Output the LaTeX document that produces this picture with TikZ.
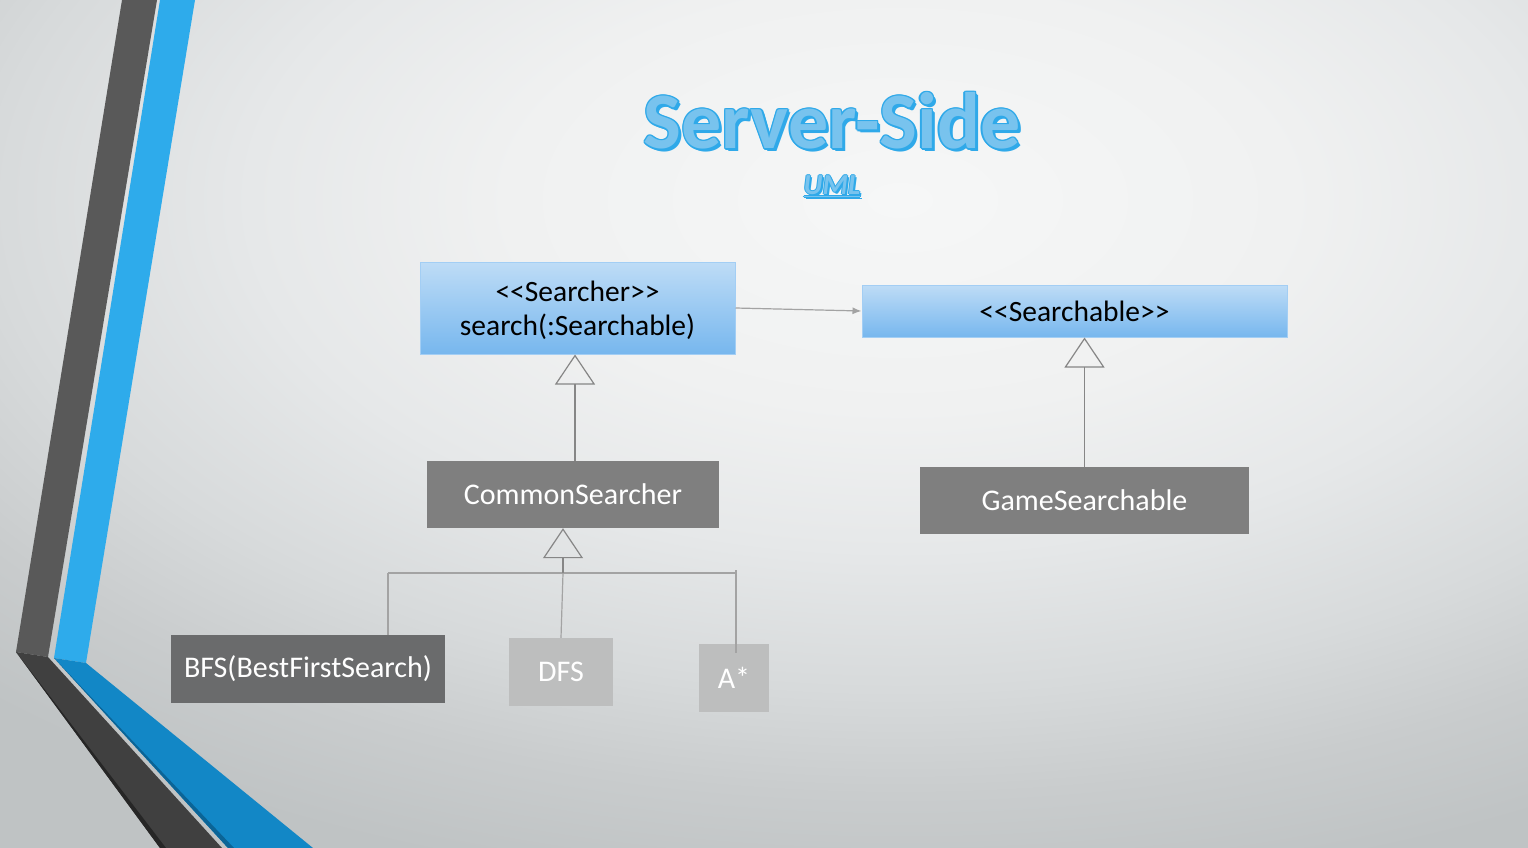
\documentclass[tikz,border=0pt]{standalone}
\usepackage{fontspec}
\setmainfont{Carlito}[Ligatures=TeXOff]
\usetikzlibrary{arrows.meta}
\definecolor{bgA}{HTML}{F6F7F7}
\definecolor{bgB}{HTML}{F0F1F1}
\definecolor{bgC}{HTML}{E6E8E9}
\definecolor{bgD}{HTML}{D7DADB}
\definecolor{bgE}{HTML}{C9CCCD}
\definecolor{bgF}{HTML}{BFC3C4}
\definecolor{dkband}{HTML}{595959}
\definecolor{dklow}{HTML}{404040}
\definecolor{blueband}{HTML}{2EABEB}
\definecolor{bluelow}{HTML}{1287C6}
\definecolor{blueedge}{HTML}{0B6496}
\definecolor{titleblue}{HTML}{2FA9E9}
\definecolor{titlefill}{HTML}{78C3EE}
\definecolor{umltop}{HTML}{BEDCF6}
\definecolor{umlbot}{HTML}{77B7EE}
\definecolor{umlborder}{HTML}{A3CEF4}
\definecolor{darkfill}{HTML}{7F7F7F}
\definecolor{bfsfill}{HTML}{6A6B6C}
\definecolor{lightfill}{HTML}{BDBEBE}
\definecolor{connline}{HTML}{A3A3A3}
\definecolor{genline}{HTML}{868686}
\pgfdeclareradialshading{bgshade}{\pgfpoint{0bp}{0bp}}{color(0bp)=(bgA); color(7.5bp)=(bgB); color(12.5bp)=(bgC); color(17.5bp)=(bgD); color(21.25bp)=(bgE); color(25bp)=(bgF); color(50bp)=(bgF)}
\tikzset{
  umlbox/.style={draw=umlborder, line width=1pt, top color=umltop, bottom color=umlbot, text=black, inner sep=0pt, font=\fontsize{29.5}{34}\selectfont, align=center},
  darkbox/.style={fill=darkfill, text=white, inner sep=0pt, font=\fontsize{30}{34}\selectfont},
  bfsbox/.style={fill=bfsfill, text=white, inner sep=0pt, font=\fontsize{30}{34}\selectfont},
  lightbox/.style={fill=lightfill, text=white, inner sep=0pt, font=\fontsize{30}{34}\selectfont},
  conn/.style={draw=connline, line width=1.2pt},
  assoc/.style={draw=connline, line width=1.2pt, -{Latex[length=9pt, width=7pt]}},
  gen/.style={draw=genline, line width=1.2pt, -{Triangle[open, length=30pt, width=40pt, line width=1.2pt]}},
  titlefont/.style={font=\fontsize{80}{80}\selectfont\bfseries},
  subfont/.style={font=\fontsize{29}{29}\selectfont\bfseries\itshape},
}
\begin{document}
\begin{tikzpicture}[x=1pt, y=-1pt]
\begin{scope}
\clip (0,0) rectangle (1528,848);
\shade[shading=bgshade] (-400,-500) rectangle (2200,900);
\end{scope}
\useasboundingbox (0,0) rectangle (1528,848);
% left decoration
\fill[dkband] (122,0) -- (157,0) -- (48,657) -- (16,652) -- cycle;
\fill[blueband] (160,0) -- (195,0) -- (86,663) -- (54,658) -- cycle;
\fill[dklow] (16,652) -- (48,657) -- (222,848) -- (160,848) -- cycle;
\fill[black!85] (16,652) -- (166,848) -- (160,848) -- cycle;
\fill[bluelow] (54,658) -- (86,663) -- (313,848) -- (228,848) -- cycle;
\fill[blueedge] (54,658) -- (234,848) -- (228,848) -- cycle;
% title
\foreach \dx/\dy [count=\i] in {3/3, 2/2, -1.5/0, 1.5/0, 0/-1.5, 0/1.5, -1/-1, 1/-1, -1/1, 1/1}
  \node[titlefont, text=titleblue] (ts\i) at (832+\dx,121+\dy) {Server-Side};
\node[titlefont, text=titlefill] (title) at (832,121) {Server-Side};
\foreach \dx/\dy [count=\i] in {2/2, -1/0, 1/0, 0/-1, 0/1}
  \node[subfont, text=titleblue] (us\i) at (832+\dx,186+\dy) {\underline{UML}};
\node[subfont, text=titlefill] (uml) at (832,186) {\underline{UML}};
% boxes
\node[umlbox, minimum width=315pt, minimum height=92pt] (searcher) at (577.5,308) {\raisebox{-2.5pt}[\height][\depth]{<<Searcher>>}\\\raisebox{-2.5pt}[\height][\depth]{search(:Searchable)}};
\node[umlbox, minimum width=425pt, minimum height=52pt] (searchable) at (1074.5,311) {<<Searchable>>};
\node[darkbox, minimum width=292pt, minimum height=67pt] (cs) at (573,494.5) {CommonSearcher};
\node[darkbox, minimum width=329pt, minimum height=67pt] (gs) at (1084.5,500.5) {GameSearchable};
\node[bfsbox, minimum width=274pt, minimum height=68pt] (bfs) at (308,669) {BFS(BestFirstSearch)};
\node[lightbox, minimum width=104pt, minimum height=68pt] (dfs) at (561,672) {DFS};
\node[lightbox, minimum width=70pt, minimum height=68pt] (astar) at (734,678) {A*};
% connectors
\draw[assoc] (searcher.east) -- (searchable.west);
\coordinate (sbot) at ([xshift=-2.5pt]searcher.south);
\draw[gen] (cs.north -| sbot) -- (sbot);
\draw[gen] (gs.north) -- (gs.north |- searchable.south);
\coordinate (junc) at (563,573);
\coordinate (jl) at (388,573);
\coordinate (jr) at (736,573);
\coordinate (jrt) at (736,570);
\draw[conn] (jl) -- (jr);
\draw[conn] ([xshift=80pt]bfs.north) -- (jl);
\draw[conn] (dfs.north) -- (junc);
\draw[conn] (jrt) -- ([xshift=2pt, yshift=-9pt]astar.north);
\draw[gen] (junc) -- (junc |- cs.south);
\end{tikzpicture}
\end{document}
